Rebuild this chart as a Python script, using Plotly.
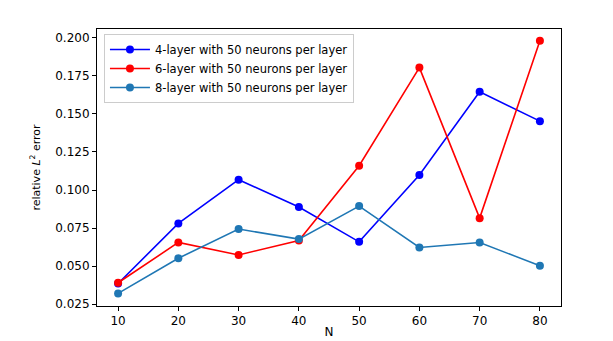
import plotly.graph_objects as go

N = [10, 20, 30, 40, 50, 60, 70, 80]
err_4layer = [0.0385, 0.0780, 0.1068, 0.0888, 0.0659, 0.1099, 0.1646, 0.1453]
err_6layer = [0.0390, 0.0655, 0.0573, 0.0668, 0.1160, 0.1805, 0.0815, 0.1981]
err_8layer = [0.0320, 0.0551, 0.0743, 0.0677, 0.0894, 0.0622, 0.0655, 0.0501]

series = [
    ('4-layer with 50 neurons per layer', err_4layer, '#0000ff'),
    ('6-layer with 50 neurons per layer', err_6layer, '#ff0000'),
    ('8-layer with 50 neurons per layer', err_8layer, '#1f77b4'),
]

fig = go.Figure()
for name, vals, color in series:
    fig.add_trace(go.Scatter(
        x=N, y=vals, name=name, mode='lines+markers',
        line=dict(color=color, width=1.6),
        marker=dict(color=color, size=8),
    ))

axis_common = dict(
    showgrid=False, zeroline=False, showline=True, linecolor='black',
    linewidth=1, mirror=True, ticks='outside', ticklen=4, tickcolor='black',
    tickfont=dict(size=12, color='black'), automargin=False,
)

# page body has an 8px margin, so the figure is a bit smaller than the window
fig.update_layout(
    width=605, height=333,
    margin=dict(l=89, r=52, t=21, b=35),
    paper_bgcolor='white', plot_bgcolor='white',
    font=dict(family='DejaVu Sans', color='black'),
    showlegend=True,
    legend=dict(
        x=0.015, y=0.982, xanchor='left', yanchor='top',
        bgcolor='rgba(255,255,255,0.8)', bordercolor='#cccccc', borderwidth=1,
        font=dict(size=11.5), tracegroupgap=0, itemwidth=40,
    ),
    xaxis=dict(
        title=dict(text='N', font=dict(size=12), standoff=0),
        range=[6.5, 83.5], tickvals=N, **axis_common,
    ),
    yaxis=dict(
        title=dict(text='relative <i>L</i><sup>2</sup> error', font=dict(size=11), standoff=12),
        range=[0.0237, 0.2059], tickvals=[0.025, 0.05, 0.075, 0.1, 0.125, 0.15, 0.175, 0.2],
        tickformat='.3f', **axis_common,
    ),
)

fig.write_html('out.html')
